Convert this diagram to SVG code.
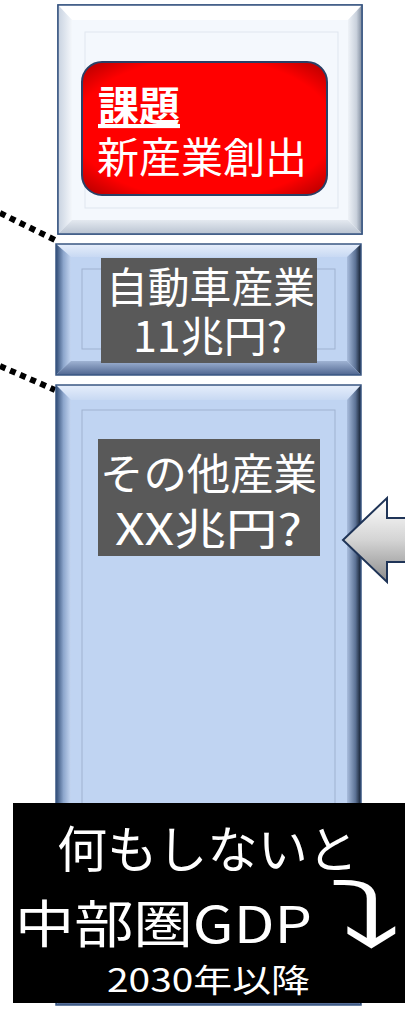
<svg xmlns="http://www.w3.org/2000/svg" width="405" height="1010" viewBox="0 0 405 1010">
<defs>
<linearGradient id="rb" x1="0" y1="0" x2="1" y2="0"><stop offset="0" stop-color="#a9bddd"/><stop offset="0.6" stop-color="#5d7396"/><stop offset="1" stop-color="#121c2c"/></linearGradient>
<linearGradient id="lb" x1="0" y1="0" x2="1" y2="0"><stop offset="0" stop-color="#2e4a74"/><stop offset="0.5" stop-color="#8da6cc"/><stop offset="1" stop-color="#c4d6f2"/></linearGradient>
<linearGradient id="rw" x1="0" y1="0" x2="1" y2="0"><stop offset="0" stop-color="#eef2f7"/><stop offset="0.6" stop-color="#c9d1dc"/><stop offset="1" stop-color="#7e8a9c"/></linearGradient>
<linearGradient id="lw" x1="0" y1="0" x2="1" y2="0"><stop offset="0" stop-color="#c8d2e0"/><stop offset="1" stop-color="#f4f7fb"/></linearGradient>
<linearGradient id="tb" x1="0" y1="0" x2="0" y2="1"><stop offset="0" stop-color="#e6eefb"/><stop offset="1" stop-color="#c8d9f3"/></linearGradient>
<linearGradient id="bb" x1="0" y1="0" x2="0" y2="1"><stop offset="0" stop-color="#9fb3d3"/><stop offset="1" stop-color="#4f6690"/></linearGradient>
<linearGradient id="bw" x1="0" y1="0" x2="0" y2="1"><stop offset="0" stop-color="#e4e9f0"/><stop offset="1" stop-color="#b9c3d1"/></linearGradient>
<linearGradient id="arr" x1="0" y1="0" x2="0" y2="1"><stop offset="0" stop-color="#ffffff"/><stop offset="0.5" stop-color="#d4d4d4"/><stop offset="1" stop-color="#8c8c8c"/></linearGradient>
<radialGradient id="red" cx="0.5" cy="0.5" r="0.7"><stop offset="0.75" stop-color="#ff0000"/><stop offset="1" stop-color="#b00000"/></radialGradient>
<style>
.outer{stroke:#3a5783;stroke-width:1.5}
.inl{fill:none;stroke:#9fb2d0;stroke-width:1}
.jp{font-family:"Noto Sans CJK JP","Noto Sans",sans-serif;fill:#ffffff}
.dot{fill:none;stroke:#000;stroke-width:6;stroke-dasharray:6 5}
</style>
</defs>
<g id="connectors">
<path class="dot" d="M0,213 L55,240"/>
<path class="dot" d="M0,366 L55,390"/>
</g>
<g id="box-top">
<rect x="58" y="5" width="304" height="229" fill="#f4f8fd" class="outer"/>
<polygon points="58,5 362,5 348,20 72,20" fill="#ffffff"/>
<polygon points="58,5 72,20 72,220 58,234" fill="url(#lw)"/>
<polygon points="362,5 362,234 348,220 348,20" fill="url(#rw)"/>
<polygon points="58,234 72,220 348,220 362,234" fill="url(#bw)"/>
<rect x="58" y="5" width="304" height="229" fill="none" class="outer"/>
<rect x="85" y="32" width="253" height="176" fill="none" stroke="#dfe6ef" stroke-width="1"/>
<rect x="82" y="62" width="245" height="133" rx="20" fill="url(#red)" stroke="#2a4066" stroke-width="2"/>
<text class="jp" x="98" y="121" font-size="41" font-weight="bold" text-decoration="underline">課題</text>
<text class="jp" x="97" y="173" font-size="42">新産業創出</text>
</g>
<g id="box-auto">
<rect x="56" y="244" width="305" height="131" fill="#c0d4f2"/>
<polygon points="56,244 361,244 347,257 71,257" fill="url(#tb)"/>
<polygon points="56,244 71,257 71,361 56,375" fill="url(#lb)"/>
<polygon points="361,244 361,375 347,361 347,257" fill="url(#rb)"/>
<polygon points="56,375 71,361 347,361 361,375" fill="url(#bb)"/>
<rect x="56" y="244" width="305" height="131" fill="none" class="outer"/>
<rect x="82" y="269" width="253" height="80" class="inl"/>
<rect x="101" y="258" width="216" height="105" fill="#595959"/>
<text class="jp" x="106" y="303" font-size="42" textLength="209" lengthAdjust="spacingAndGlyphs">自動車産業</text>
<text class="jp" x="133" y="352" font-size="42" textLength="154" lengthAdjust="spacingAndGlyphs">11兆円?</text>
</g>
<g id="box-other">
<rect x="56" y="385" width="305" height="620" fill="#c0d4f2"/>
<polygon points="56,385 361,385 347,400 71,400" fill="url(#tb)"/>
<polygon points="56,385 71,400 71,990 56,1005" fill="url(#lb)"/>
<polygon points="361,385 361,1005 347,990 347,400" fill="url(#rb)"/>
<polygon points="56,1005 71,990 347,990 361,1005" fill="url(#bb)"/>
<rect x="56" y="385" width="305" height="620" fill="none" class="outer"/>
<rect x="82" y="410" width="253" height="570" class="inl"/>
<rect x="98" y="439" width="222" height="117" fill="#595959"/>
<text class="jp" x="100" y="490" font-size="43" textLength="217" lengthAdjust="spacingAndGlyphs">その他産業</text>
<text class="jp" x="115" y="545" font-size="43" textLength="187" lengthAdjust="spacingAndGlyphs">XX兆円?</text>
</g>
<g id="arrow-left">
<polygon points="343,540 387,498 387,518 410,518 410,562 387,562 387,582" fill="url(#arr)" stroke="#1f3457" stroke-width="2"/>
</g>
<g id="note">
<rect x="13" y="803" width="392" height="200" fill="#000000"/>
<text class="jp" x="57" y="868" font-size="50" textLength="301" lengthAdjust="spacingAndGlyphs">何もしないと</text>
<text class="jp" x="15" y="943" font-size="51" textLength="297" lengthAdjust="spacingAndGlyphs">中部圏GDP</text>
<text x="0" y="0" font-size="60" fill="#ffffff" font-family="'DejaVu Sans',sans-serif" transform="translate(326,947) scale(2.6,1.5)">⤵</text>
<text class="jp" x="107" y="992" font-size="32" textLength="203" lengthAdjust="spacingAndGlyphs">2030年以降</text>
</g>
</svg>
